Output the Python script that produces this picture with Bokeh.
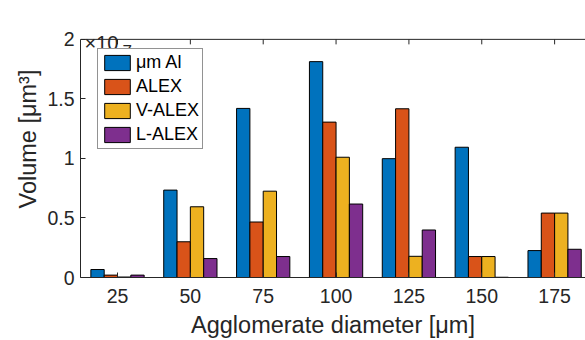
import math
from bokeh.plotting import figure
from bokeh.models import Range1d, FixedTicker, Legend, LegendItem, Span
from bokeh.core.properties import value
from bokeh.embed import file_html
from bokeh.resources import INLINE

# Data (volume in units of 1e7 um^3)
diameters = [25, 50, 75, 100, 125, 150, 175]
series_names = ["μm Al", "ALEX", "V-ALEX", "L-ALEX"]
um_al  = [0.067, 0.734, 1.42, 1.813, 0.998, 1.094, 0.226]
alex   = [0.020, 0.300, 0.466, 1.305, 1.417, 0.176, 0.541]
v_alex = [0.004, 0.594, 0.725, 1.010, 0.178, 0.176, 0.541]
l_alex = [0.020, 0.159, 0.176, 0.617, 0.399, 0.002, 0.237]
y_ticks = [0, 0.5, 1, 1.5, 2]
y_max = 2
colors = ["#0072BD", "#D95319", "#EDB120", "#7E2F8E"]

FONT = "Liberation Sans"
TXT = "#262626"

X0, X1 = 12.3, 185.6
p = figure(width=585, height=340, output_backend="svg", toolbar_location=None,
           x_range=Range1d(X0, X1), y_range=Range1d(0, y_max * 278 / 239),
           min_border_left=80, min_border_right=0, min_border_top=0, min_border_bottom=62)
p.outline_line_color = None
p.grid.visible = False
p.background_fill_color = "white"

bw = 4.57
offsets = [-1.5 * bw, -0.5 * bw, 0.5 * bw, 1.5 * bw]
items = []
for vals, name, col, off in zip([um_al, alex, v_alex, l_alex], series_names, colors, offsets):
    r = p.vbar(x=[d + off for d in diameters], top=vals, width=bw, bottom=0,
               fill_color=col, line_color="black", line_width=1)
    items.append(LegendItem(label=name, renderers=[r]))

for ax in (p.xaxis[0], p.yaxis[0]):
    ax.axis_line_color = TXT
    ax.major_tick_line_color = TXT
    ax.major_tick_in = 5
    ax.major_tick_out = 0
    ax.minor_tick_line_color = None
    ax.major_label_text_font = FONT
    ax.major_label_text_font_size = "19.5px"
    ax.major_label_text_color = TXT
    ax.axis_label_text_font = FONT
    ax.axis_label_text_font_size = "23.5px"
    ax.axis_label_text_font_style = "normal"
    ax.axis_label_text_color = TXT

p.xaxis.ticker = FixedTicker(ticks=diameters)
p.yaxis.ticker = FixedTicker(ticks=y_ticks)
p.yaxis.bounds = (0, y_max)
p.yaxis.major_label_overrides = {0: "0", 0.5: "0.5", 1: "1", 1.5: "1.5", 2: "2"}
p.xaxis.axis_label = "Agglomerate diameter [μm]"
p.yaxis.axis_label = "Volume [μm³]"
p.xaxis.major_label_standoff = 11
p.xaxis.axis_label_standoff = 6
p.yaxis.major_label_standoff = 6
p.yaxis.axis_label_standoff = 3

# top box line with inward ticks
p.add_layout(Span(location=y_max, dimension="width", line_color=TXT, line_width=1))
p.ray(x=diameters, y=[y_max] * len(diameters), length=5, length_units="screen",
      angle=-math.pi / 2, line_color=TXT, line_width=1)

# exponent label
p.text(x=[X0], y=[y_max], text=["×10"], x_offset=4, y_offset=4,
       text_font=value(FONT), text_font_size=value("20px"), text_color=TXT,
       text_baseline="alphabetic", text_align="left")
p.text(x=[X0], y=[y_max], text=["7"], x_offset=42, y_offset=12,
       text_font=value(FONT), text_font_size=value("17px"), text_color=TXT,
       text_baseline="alphabetic", text_align="left")

legend = Legend(items=items, location=(17, 128))
legend.label_text_font = FONT
legend.label_text_font_size = "18px"
legend.label_text_color = "black"
legend.glyph_width = 32
legend.glyph_height = 19
legend.label_height = 19
legend.label_standoff = 3
legend.spacing = 3
legend.padding = 3
legend.margin = 0
legend.border_line_color = TXT
legend.border_line_width = 1
legend.background_fill_alpha = 1
p.add_layout(legend, "center")

open("out.html", "w").write(file_html(p, INLINE))
